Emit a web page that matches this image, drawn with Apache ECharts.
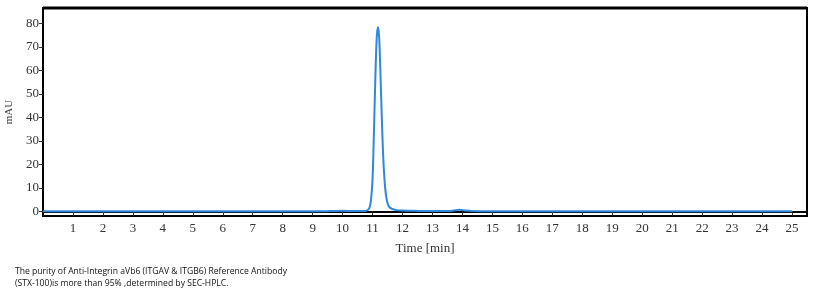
<!DOCTYPE html>
<html><head><meta charset="utf-8">
<script src="https://cdn.jsdelivr.net/npm/echarts@6/dist/echarts.min.js"></script>
<style>html,body{margin:0;padding:0;background:#fff}#c{width:818px;height:298px}</style>
</head><body><div id="c"></div>
<script>
const timeMin = [0, 2, 4, 6, 8, 9, 9.6, 10, 10.4, 10.7, 10.8, 10.85, 10.9, 10.95, 11.0, 11.05, 11.1, 11.14, 11.18, 11.22, 11.26, 11.31, 11.36, 11.42, 11.48, 11.55, 11.65, 11.8, 12.0, 12.4, 13.0, 13.5, 13.7, 13.8, 13.9, 14.0, 14.1, 14.3, 15, 17, 19, 21, 23, 25];
const absMAU = [0, 0, 0, 0, 0, 0, 0.1, 0.2, 0.1, 0.1, 0.3, 0.7, 1.6, 5, 14, 36, 60, 74, 78.4, 74, 60, 39, 22, 10, 4.5, 2, 1, 0.5, 0.3, 0.2, 0.1, 0.1, 0.3, 0.5, 0.7, 0.5, 0.3, 0.1, 0, 0, 0, 0, 0, 0];
const yTicks = [0, 10, 20, 30, 40, 50, 60, 70, 80];
const xTicks = [1,2,3,4,5,6,7,8,9,10,11,12,13,14,15,16,17,18,19,20,21,22,23,24,25];
const xTitle = 'Time [min]';
const yTitle = 'mAU';
const caption = ['The purity of Anti-Integrin aVb6 (ITGAV & ITGB6) Reference Antibody', '(STX-100)is more than 95% ,determined by SEC-HPLC.'];

const chart = echarts.init(document.getElementById('c'));
const serif = 'Liberation Serif';
chart.setOption({
  animation: false,
  grid: {left: 43, top: 8, right: 11, bottom: 82, show: true, borderColor: '#000', borderWidth: 2, backgroundColor: '#fff', outerBoundsMode: 'none', containLabel: false},
  xAxis: {
    type: 'value', min: 0, max: 25.5,
    name: xTitle, nameLocation: 'middle', nameGap: 26,
    nameTextStyle: {fontFamily: serif, fontSize: 13, color: '#333'},
    axisLine: {show: true, lineStyle: {color: '#000', width: 2}},
    axisTick: {show: true, customValues: xTicks, length: 4, lineStyle: {color: '#333'}},
    axisLabel: {customValues: xTicks, fontFamily: serif, fontSize: 13, color: '#333', margin: 6},
    splitLine: {show: false}
  },
  yAxis: {
    type: 'value', min: -2, max: 86.5,
    name: yTitle, nameLocation: 'middle', nameGap: 28,
    nameTextStyle: {fontFamily: serif, fontSize: 11, color: '#444'},
    axisLine: {show: true, lineStyle: {color: '#000', width: 2}},
    axisTick: {show: true, customValues: yTicks, length: 4, lineStyle: {color: '#333'}},
    axisLabel: {customValues: yTicks, fontFamily: serif, fontSize: 13, color: '#333', margin: 4},
    splitLine: {show: false}
  },
  series: [{
    type: 'line', data: timeMin.map((t, i) => [t, absMAU[i]]),
    smooth: 0.3, showSymbol: false,
    lineStyle: {color: '#2f88de', width: 2}
  }],
  graphic: [
    {type: 'line', shape: {x1: 43, y1: 8, x2: 807, y2: 8}, style: {stroke: '#000', lineWidth: 3}, z: 100},
    {type: 'text', left: 15, top: 266, style: {text: caption.join('\n'), fontFamily: 'Open Sans', fontSize: 8.6, lineHeight: 12, fill: '#111'}}
  ]
});
</script></body></html>
